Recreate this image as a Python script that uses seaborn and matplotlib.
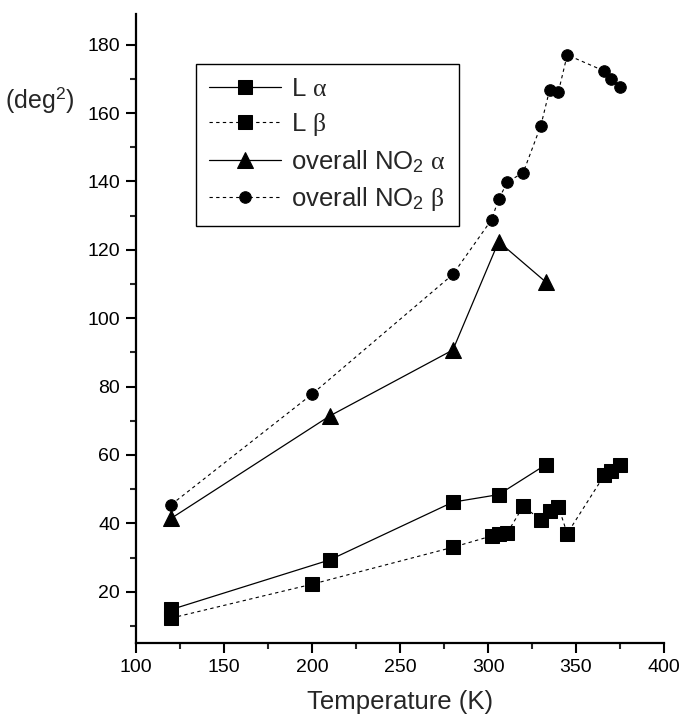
import numpy as np
import matplotlib
matplotlib.use("Agg")
import matplotlib.pyplot as plt
from matplotlib.ticker import MultipleLocator
import seaborn as sns

# Data
temp_L_alpha = [120, 210, 280, 306, 333]
L_alpha = [14.8, 29.3, 46.2, 48.4, 57.2]

temp_beta = [120, 200, 280, 302, 306, 311, 320, 330, 335, 340, 345, 366, 370, 375]
L_beta = [12.3, 22.2, 33.0, 36.3, 37.0, 37.3, 45.0, 41.0, 43.5, 44.9, 37.0, 54.0, 55.2, 57.0]

temp_NO2_alpha = [120, 210, 280, 306, 333]
NO2_alpha = [41.5, 71.4, 90.7, 122.4, 110.5]

NO2_beta = [45.5, 77.8, 112.8, 128.8, 134.8, 139.8, 142.6, 156.3, 166.8, 166.2, 177.0, 172.3, 170.0, 167.5]

sns.set_style("ticks")
plt.rcParams['font.family'] = ['Liberation Sans', 'DejaVu Sans']
plt.rcParams['mathtext.fontset'] = 'custom'
plt.rcParams['mathtext.rm'] = 'Liberation Sans'
plt.rcParams['mathtext.it'] = 'Liberation Serif'

fig = plt.figure(figsize=(6.81, 7.19), dpi=100)
ax = fig.add_axes([0.2, 0.1057, 0.775, 0.875])

line_kw = dict(color='black', markeredgecolor='black', sort=False, estimator=None)
sns.lineplot(x=temp_L_alpha, y=L_alpha, ax=ax, marker='s', markersize=9.5,
             linestyle='-', linewidth=0.9, label=r'L $\alpha$', **line_kw)
sns.lineplot(x=temp_beta, y=L_beta, ax=ax, marker='s', markersize=9.5,
             linestyle=(0, (3, 3)), linewidth=0.8, label=r'L $\beta$', **line_kw)
sns.lineplot(x=temp_NO2_alpha, y=NO2_alpha, ax=ax, marker='^', markersize=11.5,
             linestyle='-', linewidth=0.9, label=r'overall NO$_{\mathrm{2}}$ $\alpha$', **line_kw)
sns.lineplot(x=temp_beta, y=NO2_beta, ax=ax, marker='o', markersize=8.3,
             linestyle=(0, (3, 3)), linewidth=0.8, label=r'overall NO$_{\mathrm{2}}$ $\beta$', **line_kw)

ax.set_xlim(100, 400)
ax.set_ylim(5, 189)
ax.xaxis.set_major_locator(MultipleLocator(50))
ax.xaxis.set_minor_locator(MultipleLocator(25))
ax.yaxis.set_major_locator(MultipleLocator(20))
ax.yaxis.set_minor_locator(MultipleLocator(10))
ax.set_yticks(np.arange(20, 181, 20))
ax.tick_params(axis='both', which='major', direction='out', length=7.5, width=1.5,
               labelsize=14, pad=4, colors='black')
ax.tick_params(axis='both', which='minor', direction='out', length=4.5, width=1.5)
sns.despine(ax=ax)
for side in ['left', 'bottom']:
    ax.spines[side].set_linewidth(1.6)
    ax.spines[side].set_color('black')

ax.set_xlabel('Temperature (K)', fontsize=18.5, labelpad=10)
ax.set_ylabel('')
fig.text(0.008, 1 - 100 / 719, r'(deg$^{\mathrm{2}}$)', fontsize=18, va='center', ha='left')

leg = ax.legend(loc='upper left', bbox_to_anchor=(0.1136, 0.9205), borderaxespad=0,
                fontsize=18.5, frameon=True, fancybox=False, framealpha=1,
                edgecolor='black', handlelength=2.8, labelspacing=0.4,
                borderpad=0.5, handletextpad=0.4)
leg.get_frame().set_linewidth(1.0)

fig.savefig('out.png', dpi=100)
